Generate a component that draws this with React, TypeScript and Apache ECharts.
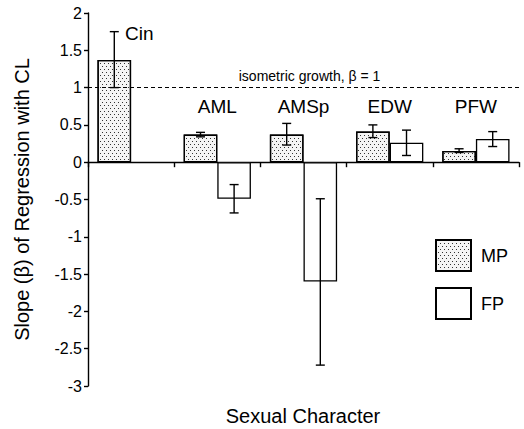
import React, { useEffect, useRef } from "react";
import * as echarts from "echarts";

const categories = ["Cin", "AML", "AMSp", "EDW", "PFW"];
const mpValues = [1.37, 0.37, 0.37, 0.41, 0.15];
const mpLow = [1.0, 0.34, 0.23, 0.33, 0.13];
const mpHigh = [1.75, 0.4, 0.52, 0.5, 0.18];
const fpValues: (number | null)[] = [null, -0.49, -1.6, 0.26, 0.31];
const fpLow: (number | null)[] = [null, -0.68, -2.72, 0.09, 0.21];
const fpHigh: (number | null)[] = [null, -0.3, -0.49, 0.43, 0.41];
const yTicks = [-3, 2, 0.5];
const isoValue = 1;

const FONT = "'Liberation Sans', Arial, sans-serif";
const GAP = 0.22;

function errorSeries(name: string, idx: number, low: (number | null)[], high: (number | null)[]) {
  const data = categories
    .map((_, i) => (low[i] == null ? null : [i, low[i], high[i]]))
    .filter((d) => d != null);
  return {
    type: "custom",
    name: name + "-err",
    z: 10,
    silent: true,
    renderItem: (params: any, api: any) => {
      const ci = api.value(0);
      const lo = api.coord([ci, api.value(1)]);
      const hi = api.coord([ci, api.value(2)]);
      const band = api.size([1, 0])[0];
      const barW = (band * (1 - GAP)) / 2;
      const x = lo[0] - barW / 2 + barW * idx;
      const cap = 4.5;
      const style = { stroke: "#000", lineWidth: 1.4 };
      return {
        type: "group",
        children: [
          { type: "line", shape: { x1: x, y1: lo[1], x2: x, y2: hi[1] }, style },
          { type: "line", shape: { x1: x - cap, y1: lo[1], x2: x + cap, y2: lo[1] }, style },
          { type: "line", shape: { x1: x - cap, y1: hi[1], x2: x + cap, y2: hi[1] }, style },
        ],
      };
    },
    data,
  };
}

export default function App() {
  const ref = useRef<HTMLDivElement>(null);
  useEffect(() => {
    const chart = echarts.init(ref.current!, null, { renderer: "svg" });
    const labelData = categories.map((c, i) =>
      i === 0
        ? {
            value: [i, mpHigh[0] - 0.03],
            name: c,
            label: { align: "left", offset: [-6, 0] },
          }
        : { value: [i, 0.74], name: c }
    );
    chart.setOption({
      animation: false,
      backgroundColor: "#fff",
      textStyle: { fontFamily: FONT, color: "#000" },
      grid: { left: 88, right: 5, top: 13, bottom: 43 },
      legend: {
        orient: "vertical",
        left: 435,
        top: 239,
        padding: 0,
        itemWidth: 35,
        itemHeight: 31,
        itemGap: 15,
        icon: "rect",
        data: ["MP", "FP"],
        textStyle: { fontFamily: FONT, fontSize: 18, color: "#000", padding: [0, 0, 0, 5] },
      },
      xAxis: {
        type: "category",
        data: categories,
        axisLine: { onZero: true, lineStyle: { color: "#000", width: 1.4 } },
        axisTick: { show: true, length: 5, lineStyle: { color: "#000", width: 1.4 } },
        axisLabel: { show: false },
        splitLine: { show: false },
      },
      yAxis: {
        type: "value",
        min: yTicks[0],
        max: yTicks[1],
        interval: yTicks[2],
        name: "Slope (β) of Regression with CL",
        nameLocation: "middle",
        nameGap: 56,
        nameTextStyle: { fontFamily: FONT, fontSize: 20, color: "#000" },
        axisLine: { show: true, lineStyle: { color: "#000", width: 1.4 } },
        axisTick: { show: true, length: 4, lineStyle: { color: "#000", width: 1.4 } },
        axisLabel: { fontFamily: FONT, fontSize: 16, color: "#000", margin: 6 },
        splitLine: { show: false },
      },
      graphic: [
        {
          type: "text",
          x: 303,
          y: 416,
          style: {
            text: "Sexual Character",
            fontFamily: FONT,
            fontSize: 20,
            fill: "#000",
            textAlign: "center",
            textVerticalAlign: "middle",
          },
        },
      ],
      series: [
        {
          name: "MP",
          type: "bar",
          data: mpValues,
          barGap: "0%",
          barCategoryGap: GAP * 100 + "%",
          itemStyle: {
            color: "#f4f4f4",
            borderColor: "#000",
            borderWidth: 1.3,
            decal: {
              symbol: "rect",
              symbolSize: 1,
              color: "#333",
              dashArrayX: [[1, 3], [0, 2, 1, 1]],
              dashArrayY: [1, 2],
            },
          },
          markLine: {
            silent: true,
            symbol: "none",
            lineStyle: { type: [4, 3], color: "#000", width: 1 },
            label: {
              show: true,
              position: "insideMiddleTop",
              formatter: "isometric growth, β = 1",
              fontFamily: FONT,
              fontSize: 14,
              color: "#000",
              distance: 5,
              offset: [6, 0],
            },
            data: [{ yAxis: isoValue }],
          },
        },
        {
          name: "FP",
          type: "bar",
          data: fpValues,
          itemStyle: { color: "#fff", borderColor: "#000", borderWidth: 1.3 },
        },
        errorSeries("MP", 0, mpLow, mpHigh),
        errorSeries("FP", 1, fpLow, fpHigh),
        {
          type: "scatter",
          symbolSize: 0,
          silent: true,
          z: 12,
          itemStyle: { opacity: 1, color: "#000" },
          data: labelData,
          label: {
            show: true,
            position: "inside",
            formatter: (p: any) => p.name,
            fontFamily: FONT,
            fontSize: 19,
            color: "#000",
            opacity: 1,
          },
        },
      ],
    });
    return () => chart.dispose();
  }, []);
  return (
    <div
      ref={ref}
      style={{ position: "fixed", left: 0, top: 0, width: 524, height: 429 }}
    />
  );
}
